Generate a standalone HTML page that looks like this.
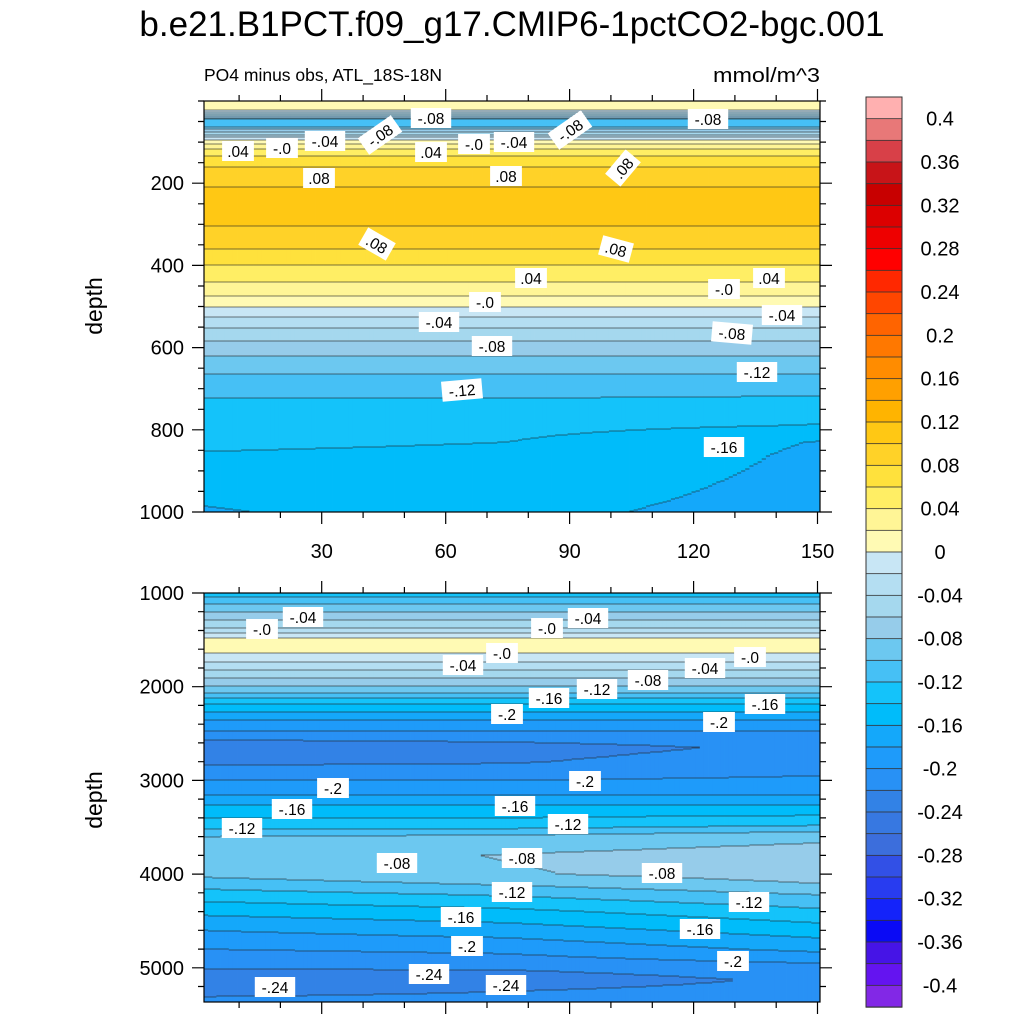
<!DOCTYPE html>
<html><head><meta charset="utf-8">
<style>
body{margin:0;background:#fff;}
svg{display:block;font-family:"Liberation Sans",sans-serif;}
</style></head>
<body>
<svg id="chart" width="1024" height="1024" viewBox="0 0 1024 1024">
<rect width="1024" height="1024" fill="#fff"/>
<text x="512" y="36" text-anchor="middle" font-size="35">b.e21.B1PCT.f09_g17.CMIP6-1pctCO2-bgc.001</text>
<text x="204" y="81" font-size="17.5">PO4 minus obs, ATL_18S-18N</text>
<text x="820" y="82" font-size="20" text-anchor="end" textLength="107" lengthAdjust="spacingAndGlyphs">mmol/m^3</text>
<text transform="translate(102,306) rotate(-90)" font-size="23" text-anchor="middle">depth</text>
<text transform="translate(102,800) rotate(-90)" font-size="23" text-anchor="middle">depth</text>
<g id="topPanel"></g>
<g id="botPanel"></g>
<g id="cbar"></g>
</svg>
<script>
// ---- data ----
const colors = ["#FFB0B0","#E87878","#D84048","#C81418","#C80000","#DC0000","#EE0000","#FF0000","#FF2800","#FF4600","#FF6400","#FF7800","#FF8C00","#FFA000","#FFB400","#FFC814","#FFD228","#FFE13C","#FFEE64","#FFF596","#FFFAB4",
"#C8E6F5","#B4DEF2","#A5D8EE","#96CCEA","#6CC8F0","#46C0F5","#14C3FA","#00BCFA","#14A8FA","#1E9BFA","#2891F5","#3282E6","#3778E1","#3C6EDC","#3250E6","#283CF0","#1423FA","#0A0AF5","#4614E6","#6414F0","#8228E6"];
const cbarLabels = ["0.4","0.36","0.32","0.28","0.24","0.2","0.16","0.12","0.08","0.04","0","-0.04","-0.08","-0.12","-0.16","-0.2","-0.24","-0.28","-0.32","-0.36","-0.4"];
const colYears = [1, 75, 150];
const topDepths = [0,20,30,45,60,75,85,95,110,125,145,170,210,280,330,370,410,450,475,495,520,545,570,600,640,690,740,790,830,860,985,1000];
const topLeft  = [0.01,0.01,-0.03,-0.1,-0.11,-0.06,-0.03,0.0,0.03,0.05,0.07,0.085,0.1,0.105,0.095,0.075,0.055,0.035,0.02,0.005,-0.015,-0.035,-0.05,-0.07,-0.09,-0.11,-0.125,-0.132,-0.137,-0.141,-0.16,-0.161];
const topMid   = [0.01,0.01,-0.03,-0.1,-0.11,-0.06,-0.03,0.0,0.03,0.05,0.07,0.085,0.1,0.105,0.095,0.075,0.055,0.035,0.02,0.005,-0.015,-0.035,-0.05,-0.07,-0.09,-0.11,-0.125,-0.134,-0.14,-0.143,-0.154,-0.155];
const topRight = [0.01,0.01,-0.03,-0.1,-0.11,-0.06,-0.03,0.0,0.03,0.05,0.07,0.085,0.1,0.105,0.095,0.075,0.055,0.035,0.02,0.005,-0.015,-0.035,-0.05,-0.07,-0.09,-0.11,-0.128,-0.141,-0.161,-0.163,-0.167,-0.168];
const botDepths = [1000,1075,1200,1370,1450,1500,1600,1680,1800,1950,2070,2140,2360,2500,2650,2800,2950,3100,3320,3480,3600,3800,4000,4100,4220,4400,4600,4800,4950,5130,5250,5365];
const botLeft  = [-0.13,-0.11,-0.08,-0.04,-0.01,0.005,0.005,-0.005,-0.035,-0.07,-0.10,-0.13,-0.18,-0.205,-0.238,-0.225,-0.205,-0.19,-0.15,-0.13,-0.10,-0.09,-0.095,-0.11,-0.13,-0.155,-0.18,-0.2,-0.215,-0.23,-0.225,-0.215];
const botMid   = [-0.13,-0.11,-0.08,-0.04,-0.01,0.005,0.005,-0.005,-0.035,-0.07,-0.10,-0.13,-0.18,-0.205,-0.23,-0.222,-0.205,-0.19,-0.15,-0.13,-0.095,-0.079,-0.082,-0.097,-0.118,-0.145,-0.17,-0.195,-0.21,-0.235,-0.22,-0.215];
const botRight = [-0.13,-0.11,-0.08,-0.04,-0.01,0.005,0.005,-0.005,-0.035,-0.07,-0.10,-0.13,-0.18,-0.205,-0.214,-0.207,-0.2,-0.19,-0.15,-0.12,-0.085,-0.07,-0.07,-0.08,-0.10,-0.125,-0.15,-0.175,-0.2,-0.215,-0.21,-0.205];
const topTickLabels = ["200","400","600","800","1000"];
const botTickLabels = ["1000","2000","3000","4000","5000"];
const xTickLabels = ["30","60","90","120","150"];
const topLabels = [[".04",238,151,0],["-.0",282,148,0],["-.04",325,141,0],["-.08",380,135,-35],["-.08",431,118,0],[".04",431,152,0],["-.0",474,144,0],["-.04",514,142,0],["-.08",570,130,-35],["-.08",708,119,0],[".08",319,178,0],[".08",506,176,0],[".08",623,168,-50],[".08",377,244,30],[".08",616,249,15],[".04",531,278,0],[".04",769,278,0],["-.0",485,302,0],["-.0",724,289,0],["-.04",439,322,0],["-.04",782,315,0],["-.08",492,346,0],["-.08",732,333,5],["-.12",462,390,-5],["-.12",757,372,0],["-.16",724,447,0]];
const botLabels = [["-.0",262,629],["-.04",303,617],["-.0",547,628],["-.04",588,618],["-.04",463,665],["-.0",502,653],["-.0",750,657],["-.04",705,668],["-.08",648,680],["-.12",597,689],["-.16",549,698],["-.2",507,714],["-.16",765,704],["-.2",719,722],["-.2",333,788],["-.2",585,781],["-.16",292,809],["-.16",515,806],["-.12",242,828],["-.12",568,824],["-.08",397,863],["-.08",522,858],["-.08",662,873],["-.12",512,892],["-.12",749,902],["-.16",461,917],["-.16",700,929],["-.2",467,946],["-.2",733,961],["-.24",275,987],["-.24",429,974],["-.24",506,985]];

// ---- helpers ----
const NS = "http://www.w3.org/2000/svg";
function mk(tag, attrs, parent){const e=document.createElementNS(NS,tag);for(const k in attrs)e.setAttribute(k,attrs[k]);parent.appendChild(e);return e;}
const X0=204, X1=820, YR0=1.5, YR1=150.6;
function xScale(yr){return X0+(yr-YR0)/(YR1-YR0)*(X1-X0);}
function levelIndex(v){if(v>=0.4)return 0;let i=Math.floor((0.4-v)/0.02+1e-9)+1;return Math.max(0,Math.min(41,i));}
function interpProfile(depths, vals, d){
  if(d<=depths[0])return vals[0];
  for(let i=1;i<depths.length;i++){if(d<=depths[i]){const t=(d-depths[i-1])/(depths[i]-depths[i-1]);return vals[i-1]+t*(vals[i]-vals[i-1]);}}
  return vals[vals.length-1];
}
function valueAt(depths, cols, yr, d){
  const a=cols.map(c=>interpProfile(depths,c,d));
  if(yr<=colYears[1]){const t=(yr-colYears[0])/(colYears[1]-colYears[0]);return a[0]+t*(a[1]-a[0]);}
  const t=(yr-colYears[1])/(colYears[2]-colYears[1]);return a[1]+t*(a[2]-a[1]);
}

function drawPanel(g, name, yTop, yBot, dMin, dMax, depths, cols, yTicks, yTickLabels, yMinorStep, showXLabels){
  const yScale=d=>yTop+(d-dMin)/(dMax-dMin)*(yBot-yTop);
  const dAt=y=>dMin+(y-yTop)/(yBot-yTop)*(dMax-dMin);
  let linePath="";
  for(let yr=1;yr<=150;yr++){
    const xa=Math.max(X0,xScale(yr-0.5)), xb=Math.min(X1,xScale(yr+0.5));
    let runStart=yTop, cur=levelIndex(valueAt(depths,cols,yr,dAt(yTop+0.5)));
    for(let y=yTop+1;y<=yBot;y++){
      const idx = y<yBot ? levelIndex(valueAt(depths,cols,yr,dAt(y+0.5))) : -1;
      if(idx!==cur){
        const r=mk("rect",{x:xa.toFixed(2),y:runStart,width:(xb-xa+0.4).toFixed(2),height:y-runStart,fill:colors[cur]},g);
        
        
        if(idx>=0) linePath+="M"+xa.toFixed(1)+" "+y+"H"+xb.toFixed(1);
        runStart=y;cur=idx;
      }
    }
  }
  const lp=mk("path",{d:linePath,stroke:"#222",'stroke-width':0.8,fill:"none",opacity:0.8},g);
  
  
  const fr=mk("rect",{x:X0,y:yTop,width:X1-X0,height:yBot-yTop,fill:"none",stroke:"#000","stroke-width":1.2},g);
  
  
  let tp="";
  for(let d=Math.ceil(dMin/yMinorStep)*yMinorStep; d<=dMax; d+=yMinorStep){
    const y=yScale(d); const major=yTicks.indexOf(d)>=0; const L=major?12:6;
    tp+="M"+X0+" "+y.toFixed(1)+"h"+(-L)+"M"+X1+" "+y.toFixed(1)+"h"+L;
  }
  for(let yr=10;yr<=150;yr+=10){
    const x=xScale(yr).toFixed(1); const L=(yr%30===0)?12:6;
    tp+="M"+x+" "+yTop+"v"+(-L)+"M"+x+" "+yBot+"v"+L;
  }
  const tk=mk("path",{d:tp,stroke:"#000","stroke-width":1.2,fill:"none"},g);
  
  
  yTicks.forEach((d,i)=>{
    const t=mk("text",{x:X0-20,y:yScale(d)+7,'text-anchor':'end','font-size':20},g);
    t.textContent=yTickLabels[i];
    
    
  });
  if(showXLabels){
    [30,60,90,120,150].forEach((yr,i)=>{
      const t=mk("text",{x:xScale(yr),y:yBot+46,'text-anchor':'middle','font-size':20},g);
      t.textContent=xTickLabels[i];
      
      
    });
  }
}
function drawLabels(g, labels){
  labels.forEach(l=>{
    const w=l[0].length*8.6+6;
    const grp=mk("g",{transform:"translate("+l[1]+","+l[2]+") rotate("+(l[3]||0)+")"},g);
    
    
    mk("rect",{x:-w/2,y:-10,width:w,height:20,fill:"#fff"},grp);
    const t=mk("text",{x:0,y:6,'text-anchor':'middle','font-size':15.5},grp);
    t.textContent=l[0];
  });
}
const topG=document.getElementById('topPanel'), botG=document.getElementById('botPanel');
drawPanel(topG,'top-panel',101,512,0,1000,topDepths,[topLeft,topMid,topRight],[200,400,600,800,1000],topTickLabels,50,true);
drawLabels(topG,topLabels);
drawPanel(botG,'bottom-panel',593,1002,1000,5365,botDepths,[botLeft,botMid,botRight],[1000,2000,3000,4000,5000],botTickLabels,200,false);
drawLabels(botG,botLabels);

const cb=document.getElementById('cbar');
const CB0=97, CB1=1007, bh=(CB1-CB0)/42;
colors.forEach((c,i)=>{
  const r=mk("rect",{x:866,y:(CB0+i*bh).toFixed(2),width:36,height:(bh+0.3).toFixed(2),fill:c,stroke:"#333","stroke-width":0.8},cb);
  
  
});
const cbf=mk("rect",{x:866,y:CB0,width:36,height:CB1-CB0,fill:"none",stroke:"#333","stroke-width":1},cb);


cbarLabels.forEach((s,i)=>{
  const t=mk("text",{x:940,y:CB0+(1+2*i)*bh+7,'text-anchor':'middle','font-size':20},cb);
  t.textContent=s;
  
  
});
</script>
</body></html>
